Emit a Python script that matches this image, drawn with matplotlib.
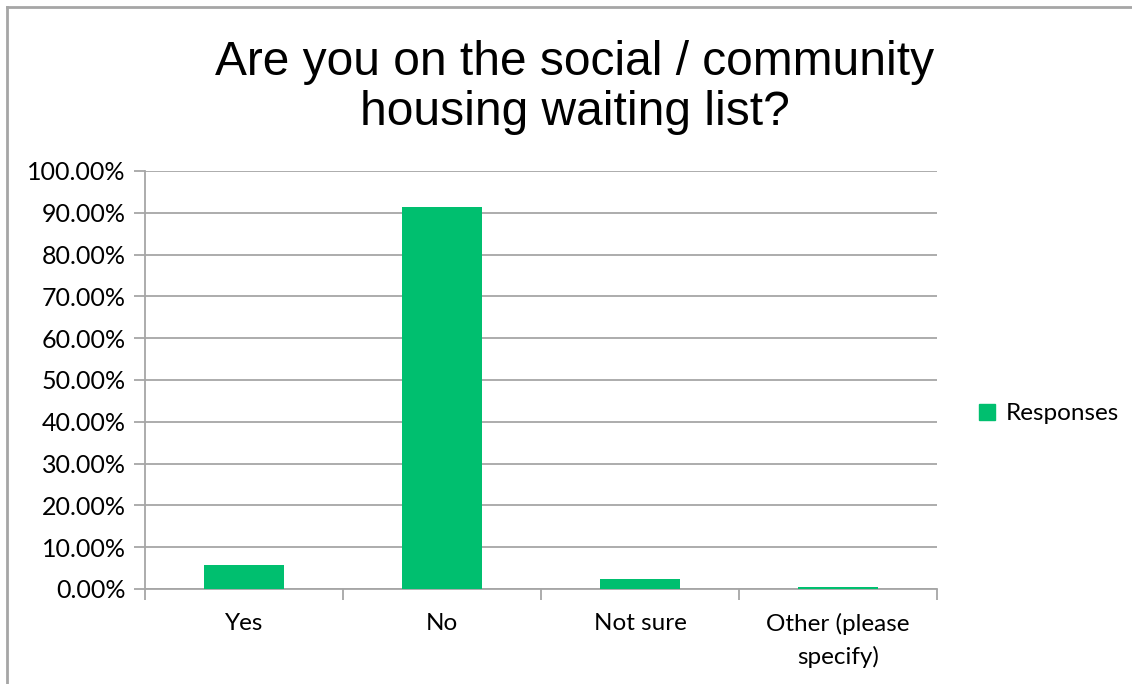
import matplotlib.pyplot as plt
from matplotlib.lines import Line2D
from matplotlib.patches import Patch
from matplotlib.ticker import MultipleLocator, FuncFormatter

categories = ['Yes', 'No', 'Not sure', 'Other (please\nspecify)']
responses = [5.7, 91.5, 2.4, 0.4]
series_name = 'Responses'
title = 'Are you on the social / community\nhousing waiting list?'

green = '#00bf6f'
grey = '#a6a6a6'

fig = plt.figure(figsize=(11.32, 6.84), dpi=100)
ax = fig.add_axes([0.1281, 0.1389, 0.6996, 0.6111])

x = range(len(categories))
ax.bar(x, responses, width=0.4, color=green, zorder=3)

ax.set_xlim(-0.5, len(categories) - 0.5)
ax.set_ylim(0, 100)
ax.yaxis.set_major_locator(MultipleLocator(10))
ax.yaxis.set_major_formatter(FuncFormatter(lambda v, p: '%.2f%%' % v))
ax.grid(axis='y', color=grey, linewidth=1.3, zorder=0)

# category labels sit at the centres, tick marks at the boundaries
ax.set_xticks(list(x))
ax.set_xticklabels(categories, fontfamily='Lato', fontsize=17.5, linespacing=1.6)
ax.tick_params(axis='x', length=0, pad=17)
ax.set_xticks([i - 0.5 for i in range(len(categories) + 1)], minor=True)
ax.tick_params(axis='x', which='minor', length=8, color=grey, width=1.3)
ax.tick_params(axis='y', length=8, color=grey, width=1.3, pad=6, labelsize=18)
for lab in ax.get_yticklabels():
    lab.set_fontfamily('Lato')

for side in ['top', 'right']:
    ax.spines[side].set_visible(False)
for side in ['left', 'bottom']:
    ax.spines[side].set_color(grey)
    ax.spines[side].set_linewidth(1.3)

fig.text(0.508, 0.872, title, ha='center', va='center', fontsize=34.5,
         fontfamily='Liberation Sans', linespacing=1.15)

fig.legend(handles=[Patch(color=green, label=series_name)],
           loc='center left', bbox_to_anchor=(0.865, 0.395), frameon=False,
           prop={'family': 'Lato', 'size': 17.5}, handlelength=0.65,
           handleheight=0.65, handletextpad=0.45, borderpad=0, borderaxespad=0)

# chart frame, clipped at the right and bottom edges
fig.add_artist(Line2D([0.0062, 1.0], [0.9898, 0.9898], color=grey, linewidth=2))
fig.add_artist(Line2D([0.0062, 0.0062], [0.0, 0.9898], color=grey, linewidth=2))

fig.savefig('out.png', dpi=100)
